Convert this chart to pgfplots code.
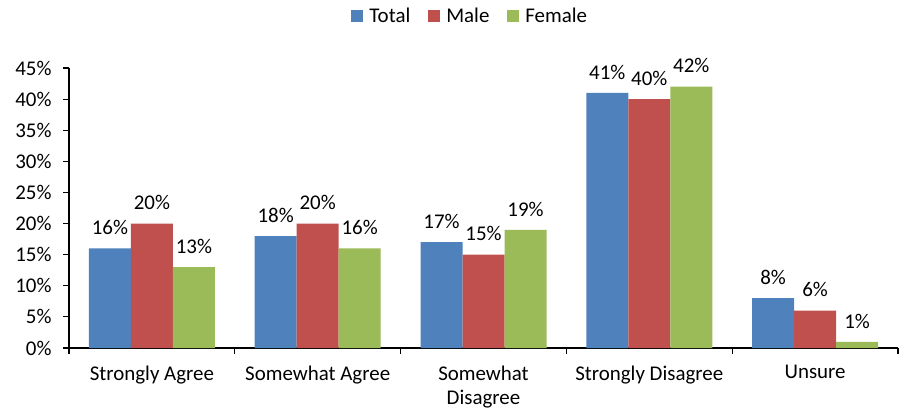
\documentclass[border=0pt]{standalone}
\usepackage{pgfplots}
\pgfplotsset{compat=1.18}
\usepackage{fontspec}
\setmainfont{Carlito}
\definecolor{cTotal}{RGB}{79,129,189}
\definecolor{cMale}{RGB}{192,80,77}
\definecolor{cFemale}{RGB}{155,187,89}

\begin{document}
\begin{tikzpicture}[x=1bp,y=1bp]
\useasboundingbox (0,0) rectangle (899,415);
\begin{axis}[
    at={(69bp,67bp)}, anchor=south west,
    width=829bp, height=280bp, scale only axis,
    ybar=0pt, bar width=0.2533,
    xmin=-0.5, xmax=4.5,
    ymin=0, ymax=45,
    axis x line*=bottom, axis y line*=left,
    axis line style={line width=1.2bp},
    xtick={0,...,4},
    xticklabels={Strongly Agree,Somewhat Agree,{Somewhat\\Disagree},Strongly Disagree,Unsure},
    x tick label style={align=center, font=\fontsize{21}{25}\selectfont, anchor=north, yshift=-8bp},
    major x tick style={draw=none},
    minor xtick={-0.5,0.5,...,4.5},
    minor x tick style={line width=1.2bp, black},
    minor tick length=6bp,
    ytick={0,5,...,45},
    yticklabel={\pgfmathprintnumber{\tick}\%},
    y tick label style={font=\fontsize{21}{25}\selectfont, xshift=-8bp},
    major y tick style={line width=1.2bp, black},
    major tick length=6bp,
    tick align=outside,
    /pgf/number format/assume math mode=true,
    nodes near coords={\pgfmathprintnumber{\pgfplotspointmeta}\%},
    every node near coord/.append style={font=\fontsize{21}{25}\selectfont, black, yshift=10bp},
    legend style={at={(0.484,1.0)}, anchor=south, yshift=40bp, draw=none,
        font=\fontsize{21}{25}\selectfont, legend columns=3,
        /tikz/every odd column/.append style={column sep=4bp},
        /tikz/every even column/.append style={column sep=16bp}},
    legend image code/.code={\fill[#1] (0bp,-6bp) rectangle (12bp,6bp);},
    clip=false,
]
\addplot[fill=cTotal, draw=none] coordinates {(0,16) (1,18) (2,17) (3,41) (4,8)};
\addlegendentry{Total}
\addplot[fill=cMale, draw=none] coordinates {(0,20) (1,20) (2,15) (3,40) (4,6)};
\addlegendentry{Male}
\addplot[fill=cFemale, draw=none] coordinates {(0,13) (1,16) (2,19) (3,42) (4,1)};
\addlegendentry{Female}
\end{axis}
\end{tikzpicture}
\end{document}
